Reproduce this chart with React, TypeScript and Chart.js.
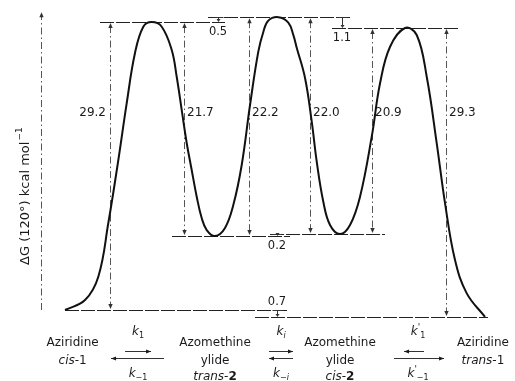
import React, { useEffect, useRef } from 'react';
import { Chart, registerables } from 'chart.js';

Chart.register(...registerables);

// Reaction coordinate (arbitrary units) and free energy (kcal/mol)
const curveX = [0, 4.74, 7.89, 10.26, 12.63, 14.62, 16.58, 18.55, 20.54, 22.91, 25.28, 26.46, 27.65, 28.83, 30.01, 31.2, 32.38, 33.57, 35.54, 37.9, 39.87, 41.86, 43.83, 45.79, 46.98, 48.16, 50.53, 52.9, 54.08, 54.89, 56.86, 58.45, 59.63, 61.19, 62.78, 65.15, 67.52, 69.89, 72.66, 74.63, 77.0, 80.55, 83.32, 85.69, 88.06, 90.03, 92.39, 95.17, 99.5];
const curveE = [0, 1.01, 3.38, 8.82, 15.21, 20.99, 26.06, 28.73, 29.2, 28.73, 26.37, 23.66, 20.28, 16.94, 14.2, 11.49, 9.33, 8.11, 7.5, 8.32, 10.65, 14.71, 20.79, 26.2, 28.2, 29.35, 29.7, 29.15, 27.9, 26.6, 23.53, 19.1, 15.04, 10.98, 8.62, 7.7, 8.62, 11.49, 17.58, 22.99, 26.7, 28.6, 27.89, 23.66, 16.91, 10.82, 5.07, 1.69, -0.7];

// Energy levels (kcal/mol) and their extents along the reaction coordinate
const levelE = [0, -0.7, 29.2, 29.7, 28.6, 7.5, 7.7];
const levelFrom = [0, 45.0, 8.29, 33.88, 63.25, 25.35, 48.57];
const levelTo = [53.07, 100.2, 37.9, 67.52, 93.58, 53.3, 75.81];

// Barrier heights
const barrierLabels = ['29.2', '21.7', '22.2', '22.0', '20.9', '29.3'];
const barrierValues = [29.2, 21.7, 22.2, 22.0, 20.9, 29.3];
const barrierLow = [0, 7.5, 7.5, 7.7, 7.7, -0.7];
const barrierX = [10.66, 28.19, 43.59, 58.04, 72.73, 90.26];

// Small energy differences
const diffLabels = ['0.5', '1.1', '0.2', '0.7'];
const diffValues = [0.5, 1.1, 0.2, 0.7];
const diffLow = [29.2, 28.6, 7.5, -0.7];
const diffX = [36.25, 65.62, 50.22, 50.22];

// Species along the bottom
const speciesLine1 = ['Aziridine', 'Azomethine', 'Azomethine', 'Aziridine'];
const speciesLine2 = ['cis-1', 'ylide', 'ylide', 'trans-1'];
const speciesLine3 = ['', 'trans-2', 'cis-2', ''];
const speciesX = [1.8, 35.54, 65.15, 99.0];

// Rate constant arrows between species
const arrowX = [17.3, 51.17, 83.63];
const kTop = [['k', '1', ''], ['k', 'i', ''], ['k', '1', "'"]];
const kBottom = [['k', '−1', ''], ['k', '−i', ''], ['k', '−1', "'"]];

const X_MIN = -15.4, X_MAX = 106.6, Y_MIN = -7.2, Y_MAX = 31.44;
const AXIS_X = -5.8;
const AXIS_TOP = 30.2;
const AXIS_LABEL = 'ΔG (120°) kcal mol';

const FONT = '"DejaVu Sans", "Liberation Sans", sans-serif';

function head(ctx: CanvasRenderingContext2D, x: number, y: number, dir: string, len = 5, hw = 2.2) {
  ctx.beginPath();
  if (dir === 'up') { ctx.moveTo(x, y); ctx.lineTo(x - hw, y + len); ctx.lineTo(x + hw, y + len); }
  else if (dir === 'down') { ctx.moveTo(x, y); ctx.lineTo(x - hw, y - len); ctx.lineTo(x + hw, y - len); }
  else if (dir === 'left') { ctx.moveTo(x, y); ctx.lineTo(x + len, y - hw); ctx.lineTo(x + len, y + hw); }
  else { ctx.moveTo(x, y); ctx.lineTo(x - len, y - hw); ctx.lineTo(x - len, y + hw); }
  ctx.closePath();
  ctx.fill();
}

type Seg = { t: string; f: string; dy?: number };

function rich(ctx: CanvasRenderingContext2D, segs: Seg[], cx: number, cy: number) {
  let w = 0;
  segs.forEach(s => { ctx.font = s.f; w += ctx.measureText(s.t).width; });
  let x = cx - w / 2;
  ctx.textAlign = 'left';
  ctx.textBaseline = 'middle';
  segs.forEach(s => { ctx.font = s.f; ctx.fillText(s.t, x, cy + (s.dy || 0)); x += ctx.measureText(s.t).width; });
}

function speciesSegs(name: string): Seg[] {
  const normal = `12px ${FONT}`;
  const italic = `italic 12px ${FONT}`;
  const bold = `bold 12px ${FONT}`;
  const m = name.match(/^(cis|trans)-(\d)$/);
  if (!m) return [{ t: name, f: normal }];
  const numFont = m[2] === '2' ? bold : normal;
  return [{ t: m[1], f: italic }, { t: '-', f: normal }, { t: m[2], f: numFont }];
}

function kSegs(k: string[]): Seg[] {
  const segs: Seg[] = [{ t: k[0], f: `italic 12px ${FONT}` }];
  if (k[2]) segs.push({ t: k[2], f: `9px ${FONT}`, dy: -4 });
  segs.push({ t: k[1], f: `${k[1].includes('i') ? 'italic ' : ''}8px ${FONT}`, dy: 4 });
  return segs;
}

const annotations = {
  id: 'energyAnnotations',
  beforeDraw(chart: any) {
    const { ctx, width, height } = chart;
    ctx.save();
    ctx.fillStyle = '#ffffff';
    ctx.fillRect(0, 0, width, height);
    ctx.restore();
  },
  beforeDatasetsDraw(chart: any) {
    const ctx: CanvasRenderingContext2D = chart.ctx;
    const X = (v: number) => chart.scales.x.getPixelForValue(v);
    const Y = (v: number) => chart.scales.y.getPixelForValue(v);
    ctx.save();
    // level lines
    ctx.strokeStyle = '#222';
    ctx.lineWidth = 1.2;
    ctx.setLineDash([14, 2]);
    levelE.forEach((e, i) => {
      const y = Math.round(Y(e)) + 0.5;
      ctx.beginPath();
      ctx.moveTo(X(levelFrom[i]), y);
      ctx.lineTo(X(levelTo[i]), y);
      ctx.stroke();
    });
    // barrier dimension lines
    ctx.strokeStyle = '#555';
    ctx.fillStyle = '#333';
    ctx.lineWidth = 1;
    ctx.setLineDash([7, 3, 1.5, 3]);
    barrierValues.forEach((v, i) => {
      const x = Math.round(X(barrierX[i])) + 0.5;
      const y1 = Y(barrierLow[i] + v), y2 = Y(barrierLow[i]);
      ctx.beginPath();
      ctx.moveTo(x, y1 + 4);
      ctx.lineTo(x, y2 - 4);
      ctx.stroke();
      head(ctx, x, y1 + 1, 'up');
      head(ctx, x, y2 - 1, 'down');
    });
    // y axis
    const ax = Math.round(X(AXIS_X)) + 0.5;
    ctx.beginPath();
    ctx.moveTo(ax, Y(0));
    ctx.lineTo(ax, Y(AXIS_TOP) + 4);
    ctx.stroke();
    head(ctx, ax, Y(AXIS_TOP), 'up');
    // small differences
    ctx.setLineDash([]);
    ctx.strokeStyle = '#333';
    diffValues.forEach((v, i) => {
      const x = Math.round(X(diffX[i])) + 0.5;
      const yTop = Y(diffLow[i] + v), yLow = Y(diffLow[i]);
      ctx.beginPath();
      ctx.moveTo(x - 5, Math.round(yTop) + 0.5);
      ctx.lineTo(x + 5, Math.round(yTop) + 0.5);
      ctx.moveTo(x, yTop);
      ctx.lineTo(x, yLow - 2);
      ctx.stroke();
      head(ctx, x, yLow, 'down', 3, 2);
    });
    ctx.restore();
  },
  afterDatasetsDraw(chart: any) {
    const ctx: CanvasRenderingContext2D = chart.ctx;
    const X = (v: number) => chart.scales.x.getPixelForValue(v);
    const Y = (v: number) => chart.scales.y.getPixelForValue(v);
    ctx.save();
    ctx.fillStyle = '#1a1a1a';
    ctx.textBaseline = 'middle';
    // barrier labels
    ctx.font = `12px ${FONT}`;
    const labelY = Y(20);
    barrierLabels.forEach((t, i) => {
      const x = X(barrierX[i]);
      if (i === 0) { ctx.textAlign = 'right'; ctx.fillText(t, x - 4, labelY); }
      else { ctx.textAlign = 'left'; ctx.fillText(t, x + 3, labelY); }
    });
    // diff labels
    ctx.font = `11.5px ${FONT}`;
    ctx.textAlign = 'center';
    diffLabels.forEach((t, i) => {
      const x = X(diffX[i]);
      if (i === 3) ctx.fillText(t, x, Y(diffLow[i] + diffValues[i]) - 8);
      else ctx.fillText(t, x, Y(diffLow[i]) + 10);
    });
    // y axis label
    ctx.save();
    ctx.translate(X(AXIS_X) - 15, Y(11.5));
    ctx.rotate(-Math.PI / 2);
    ctx.font = `13px ${FONT}`;
    const w = ctx.measureText(AXIS_LABEL).width;
    ctx.font = `9px ${FONT}`;
    const ws = ctx.measureText('−1').width;
    const sx = -(w + ws) / 2;
    ctx.font = `13px ${FONT}`;
    ctx.textAlign = 'left';
    ctx.fillText(AXIS_LABEL, sx, 0);
    ctx.font = `9px ${FONT}`;
    ctx.fillText('−1', sx + w + 1, -6);
    ctx.restore();
    // species
    const base = Y(0);
    speciesX.forEach((sxv, i) => {
      const cx = X(sxv);
      rich(ctx, speciesSegs(speciesLine1[i]), cx, base + 33);
      rich(ctx, speciesSegs(speciesLine2[i]), cx, base + 51);
      if (speciesLine3[i]) rich(ctx, speciesSegs(speciesLine3[i]), cx, base + 67);
    });
    // rate constant arrows
    ctx.strokeStyle = '#333';
    ctx.fillStyle = '#1a1a1a';
    ctx.lineWidth = 1;
    arrowX.forEach((axv, i) => {
      const cx = X(axv);
      rich(ctx, kSegs(kTop[i]), cx, base + 22);
      rich(ctx, kSegs(kBottom[i]), cx, base + 64);
      const yT = Math.round(base + 41) + 0.5;
      const yB = Math.round(base + 48) + 0.5;
      let t1: number, t2: number, b1: number, b2: number, tDir: string, bDir: string;
      if (i === 0) { t1 = cx - 13; t2 = cx + 13; tDir = 'right'; b1 = cx - 27; b2 = cx + 26; bDir = 'left'; }
      else if (i === 1) { t1 = cx - 12; t2 = cx + 12; tDir = 'right'; b1 = cx - 12; b2 = cx + 12; bDir = 'left'; }
      else { t1 = cx - 14; t2 = cx + 6; tDir = 'left'; b1 = cx - 24; b2 = cx + 26; bDir = 'right'; }
      ctx.beginPath();
      ctx.moveTo(t1, yT); ctx.lineTo(t2, yT);
      ctx.moveTo(b1, yB); ctx.lineTo(b2, yB);
      ctx.stroke();
      head(ctx, tDir === 'right' ? t2 : t1, yT, tDir, 5, 2);
      head(ctx, bDir === 'right' ? b2 : b1, yB, bDir, 5, 2);
    });
    ctx.restore();
  },
};

export default function App() {
  const canvasRef = useRef<HTMLCanvasElement | null>(null);
  useEffect(() => {
    if (!canvasRef.current) return;
    const chart = new Chart(canvasRef.current, {
      type: 'line',
      data: {
        datasets: [
          {
            data: curveX.map((x, i) => ({ x, y: curveE[i] })),
            borderColor: '#111',
            borderWidth: 2,
            pointRadius: 0,
            fill: false,
            tension: 0.4,
            clip: false as any,
          },
        ],
      },
      options: {
        animation: false,
        responsive: false,
        events: [],
        layout: { padding: 0 },
        scales: {
          x: { type: 'linear', min: X_MIN, max: X_MAX, display: false },
          y: { type: 'linear', min: Y_MIN, max: Y_MAX, display: false },
        },
        plugins: { legend: { display: false }, tooltip: { enabled: false } },
      },
      plugins: [annotations],
    } as any);
    return () => chart.destroy();
  }, []);
  return (
    <div style={{ position: 'fixed', left: 0, top: 0, width: 515, height: 381, background: '#fff' }}>
      <canvas ref={canvasRef} width={515} height={381} style={{ display: 'block' }} />
    </div>
  );
}
